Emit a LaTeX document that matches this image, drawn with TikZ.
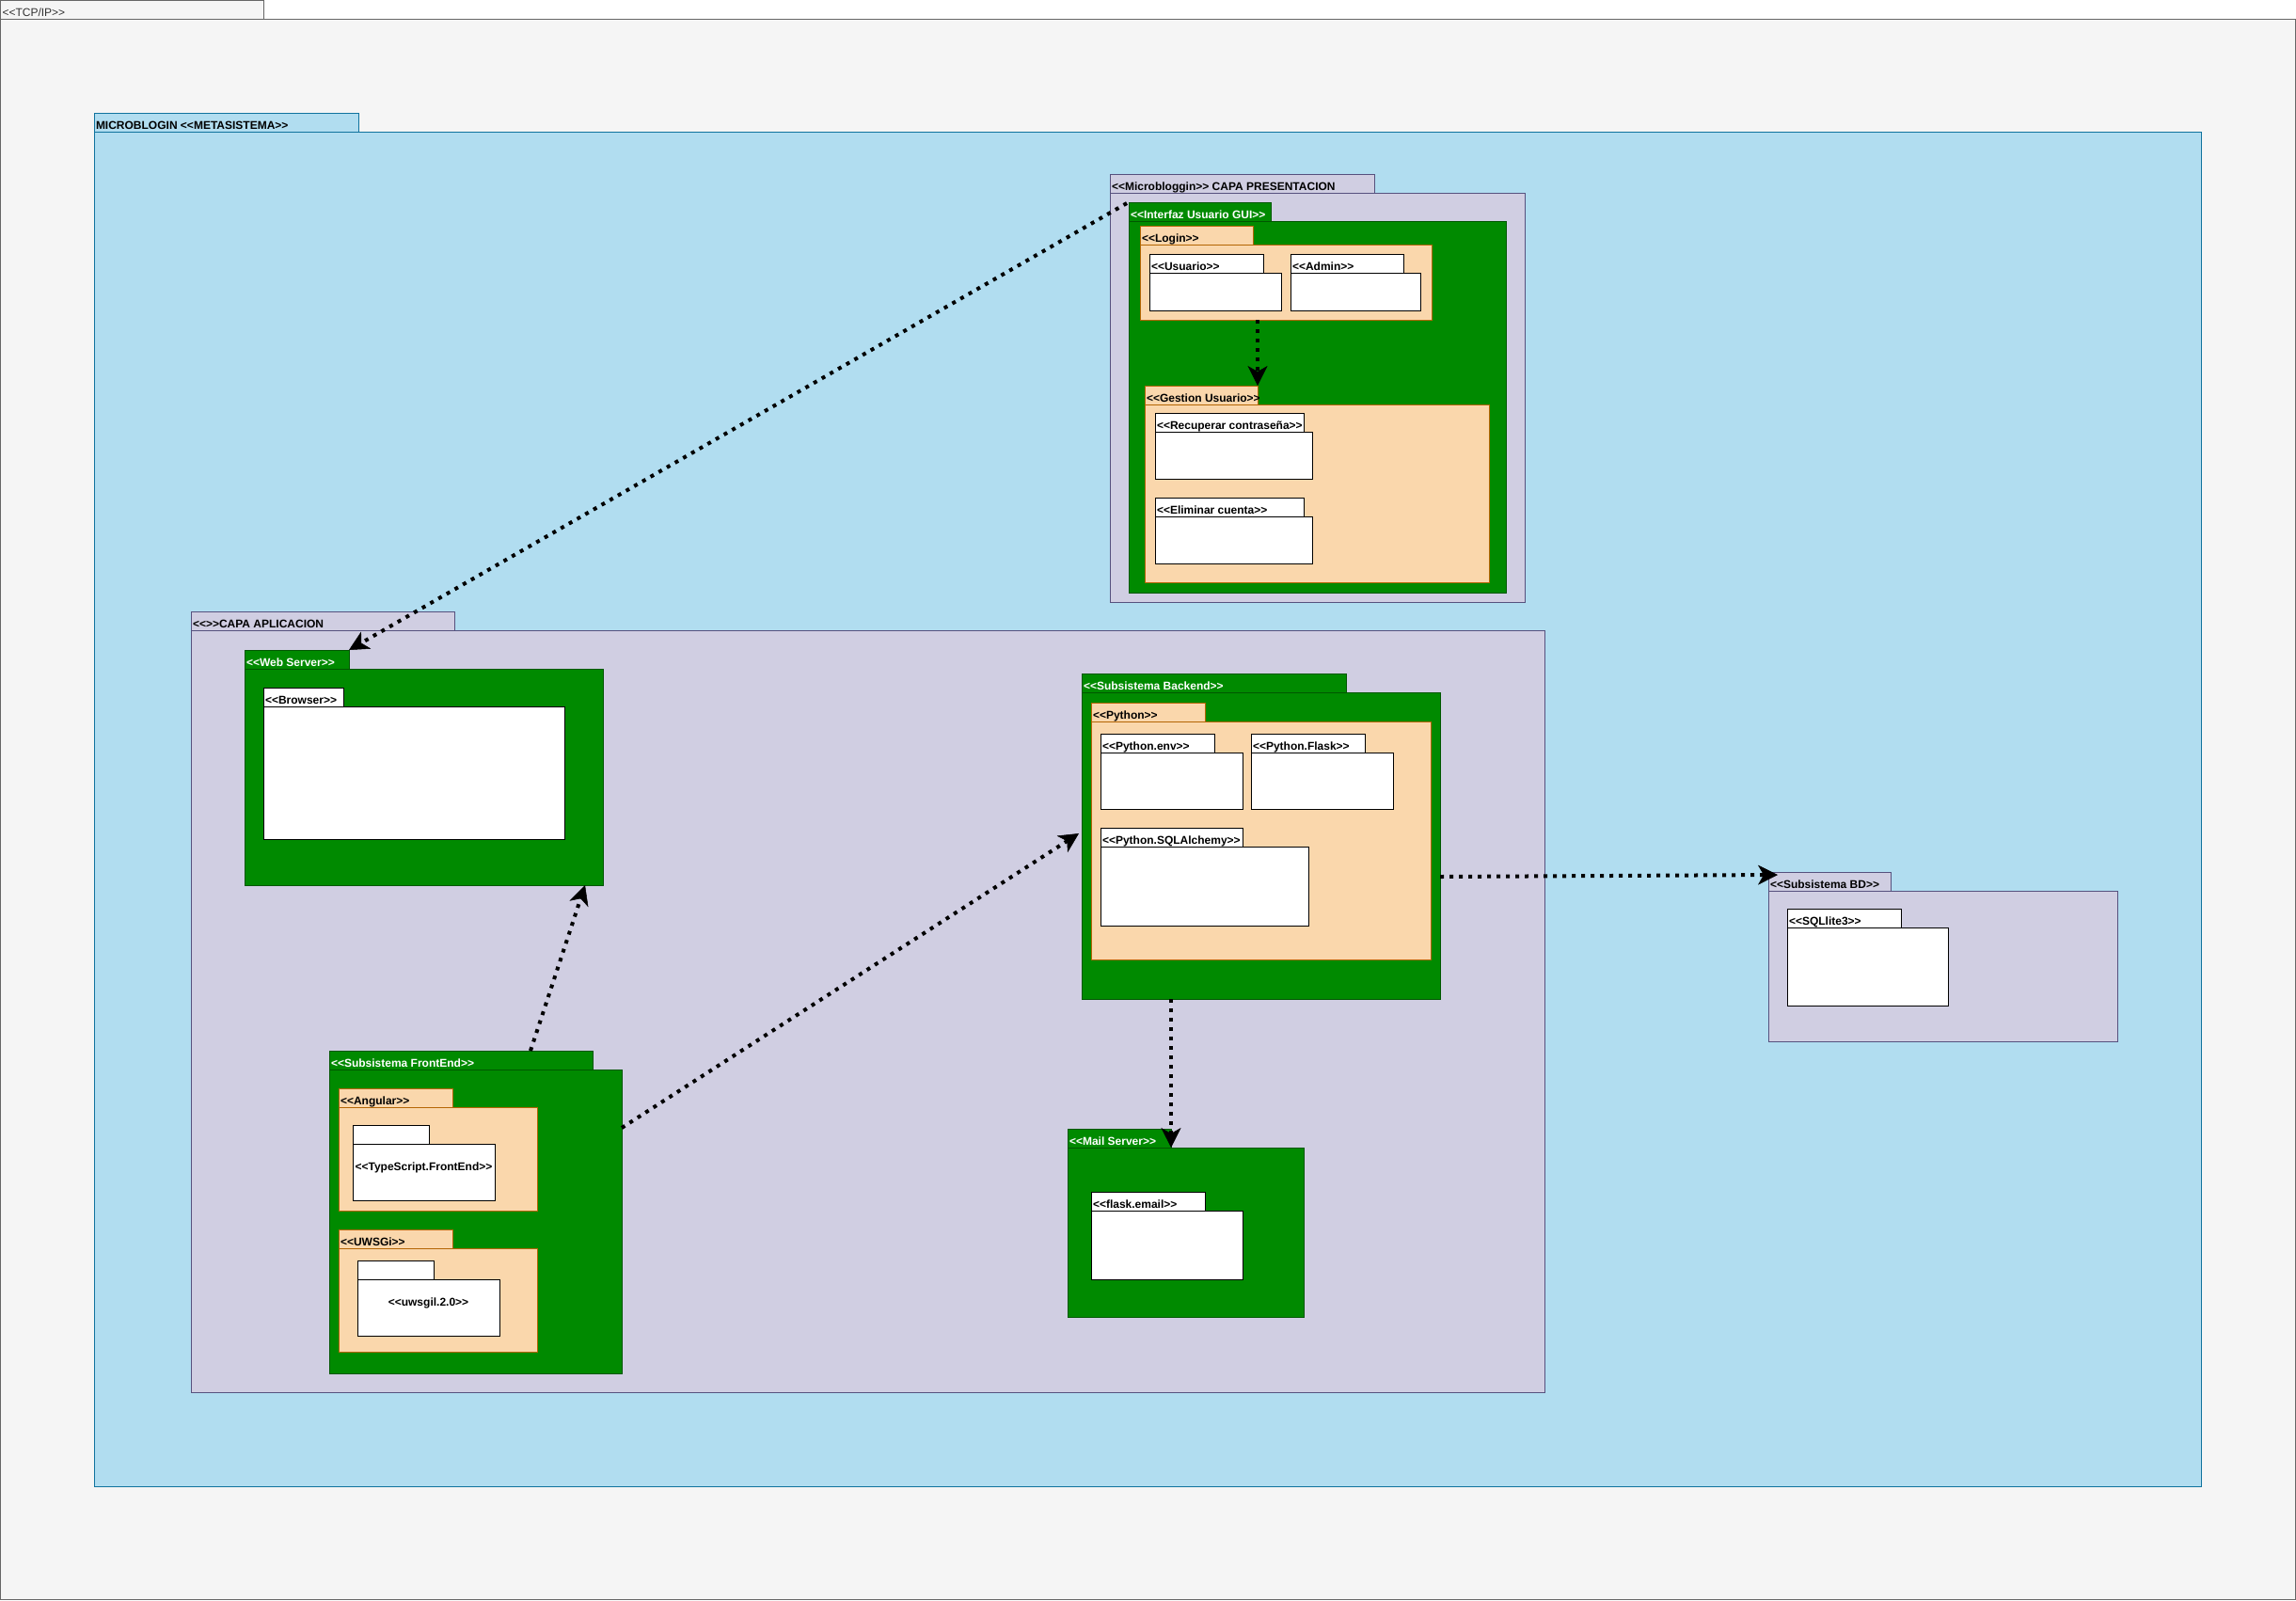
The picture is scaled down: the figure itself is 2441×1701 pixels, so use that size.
\documentclass[tikz,border=0pt]{standalone}
\usepackage{fontspec}
\setmainfont{Liberation Sans}[Ligatures=TeXOff]
\usetikzlibrary{arrows.meta}
\definecolor{tcpF}{HTML}{F5F5F5}\definecolor{tcpD}{HTML}{666666}\definecolor{tcpT}{HTML}{333333}
\definecolor{metaF}{HTML}{B1DDF0}\definecolor{metaD}{HTML}{10739E}
\definecolor{purF}{HTML}{D0CEE2}\definecolor{purD}{HTML}{56517E}
\definecolor{grnF}{HTML}{008A00}\definecolor{grnD}{HTML}{005700}
\definecolor{orgF}{HTML}{FAD7AC}\definecolor{orgD}{HTML}{B46504}
\tikzset{
  box/.style={inner sep=0pt, outer sep=0pt, line width=1pt, font=\fontsize{12}{14}\selectfont\bfseries},
  tcpbox/.style={box, fill=tcpF, draw=tcpD, text=tcpT, font=\fontsize{12}{14}\selectfont},
  metabox/.style={box, fill=metaF, draw=metaD, text=black},
  purbox/.style={box, fill=purF, draw=purD, text=black},
  grnbox/.style={box, fill=grnF, draw=grnD, text=white},
  orgbox/.style={box, fill=orgF, draw=orgD, text=black},
  whtbox/.style={box, fill=white, draw=black, text=black},
  dep/.style={line width=4pt, dash pattern=on 4pt off 6pt, line cap=butt,
    -{Stealth[length=21pt, width=21pt, inset=6pt, line width=0.5pt]}},
}
% #1 name, #2 style, #3 x1, #4 tab top, #5 tab right, #6 body top, #7 body right, #8 body bottom, #9 label
\newcommand\pkgdraw[9]{%
  \node[#2, anchor=north west, minimum width={(#5-#3)*1pt}, minimum height={(#6-#4)*1pt}] (#1tab) at (#3,#4) {};
  \node[#2, anchor=north west, minimum width={(#7-#3)*1pt}, minimum height={(#8-#6)*1pt}] (#1) at (#3,#6) {};
  \node[#2, draw=none, fill=none, anchor=base west] (#1lbl) at (#3+2,#6-3) {#9};
}
\begin{document}
\begin{tikzpicture}[x=1pt,y=-1pt]
\useasboundingbox (0,0) rectangle (2441,1701);
\pkgdraw{tcp}{tcpbox}{0.5}{0.5}{280}{20}{2440}{1700}{<<TCP/IP>>}
\pkgdraw{meta}{metabox}{100}{120}{381}{140}{2340}{1580}{MICROBLOGIN <<METASISTEMA>>}
% presentation layer
\pkgdraw{pres}{purbox}{1180}{185}{1461}{205}{1621}{640}{<<Microbloggin>> CAPA PRESENTACION}
\pkgdraw{gui}{grnbox}{1200}{215}{1351}{235}{1601}{630}{<<Interfaz Usuario GUI>>}
\pkgdraw{login}{orgbox}{1212}{240}{1332}{260}{1522}{340}{<<Login>>}
\pkgdraw{usu}{whtbox}{1222}{270}{1343}{290}{1362}{330}{<<Usuario>>}
\pkgdraw{adm}{whtbox}{1372}{270}{1492}{290}{1510}{330}{<<Admin>>}
\pkgdraw{gest}{orgbox}{1217}{410}{1337}{430}{1583}{619}{<<Gestion Usuario>>}
\pkgdraw{recup}{whtbox}{1228}{439}{1386}{459}{1395}{509}{<<Recuperar contraseña>>}
\pkgdraw{elim}{whtbox}{1228}{529}{1386}{549}{1395}{599}{<<Eliminar cuenta>>}
% application layer
\pkgdraw{app}{purbox}{203}{650}{483}{670}{1642}{1480}{<<>>CAPA APLICACION}
\pkgdraw{web}{grnbox}{260}{691}{371}{711}{641}{941}{<<Web Server>>}
\pkgdraw{brow}{whtbox}{280}{731}{365}{751}{600}{892}{<<Browser>>}
\pkgdraw{be}{grnbox}{1150}{716}{1431}{736}{1531}{1062}{<<Subsistema Backend>>}
\pkgdraw{py}{orgbox}{1160}{747}{1281}{767}{1521}{1020}{<<Python>>}
\pkgdraw{penv}{whtbox}{1170}{780}{1291}{800}{1321}{860}{<<Python.env>>}
\pkgdraw{flask}{whtbox}{1330}{780}{1451}{800}{1481}{860}{<<Python.Flask>>}
\pkgdraw{sqla}{whtbox}{1170}{880}{1321}{900}{1391}{984}{<<Python.SQLAlchemy>>}
\pkgdraw{mail}{grnbox}{1135}{1200}{1245}{1220}{1386}{1400}{<<Mail Server>>}
\pkgdraw{femail}{whtbox}{1160}{1267}{1281}{1287}{1321}{1360}{<<flask.email>>}
\pkgdraw{fe}{grnbox}{350}{1117}{630}{1137}{661}{1460}{<<Subsistema FrontEnd>>}
\pkgdraw{ang}{orgbox}{360}{1157}{481}{1177}{571}{1287}{<<Angular>>}
\pkgdraw{ts}{whtbox}{375}{1196}{456}{1216}{526}{1276}{}
\node[whtbox, draw=none, fill=none] (tslbl2) at (450.5,1241) {<<TypeScript.FrontEnd>>};
\pkgdraw{uwsgi}{orgbox}{360}{1307}{481}{1327}{571}{1437}{<<UWSGi>>}
\pkgdraw{uw}{whtbox}{380}{1340}{461}{1360}{531}{1420}{}
\node[whtbox, draw=none, fill=none] (uwlbl2) at (455.5,1385) {<<uwsgil.2.0>>};
% database
\pkgdraw{bd}{purbox}{1880}{927}{2010}{947}{2251}{1107}{<<Subsistema BD>>}
\pkgdraw{sqlite}{whtbox}{1900}{966}{2021}{986}{2071}{1069}{<<SQLlite3>>}
% connectors
\draw[dep] ([xshift=-2pt,yshift=-1pt]guitab.north west) -- (webtab.north east);
\draw[dep] (login.south -| gesttab.north east) -- (gesttab.north east);
\draw[dep] ([xshift=214pt]fetab.north west) -- ([xshift=-19pt]web.south east);
\draw[dep] ([yshift=-62pt]fe.north east) -- ([xshift=-3pt,yshift=-150pt]be.north west);
\draw[dep] ([yshift=-196pt]be.north east) -- ([xshift=10pt,yshift=-3pt]bdtab.north west);
\draw[dep] ([xshift=95pt]be.south west) -- (mailtab.south east);
\end{tikzpicture}
\end{document}
